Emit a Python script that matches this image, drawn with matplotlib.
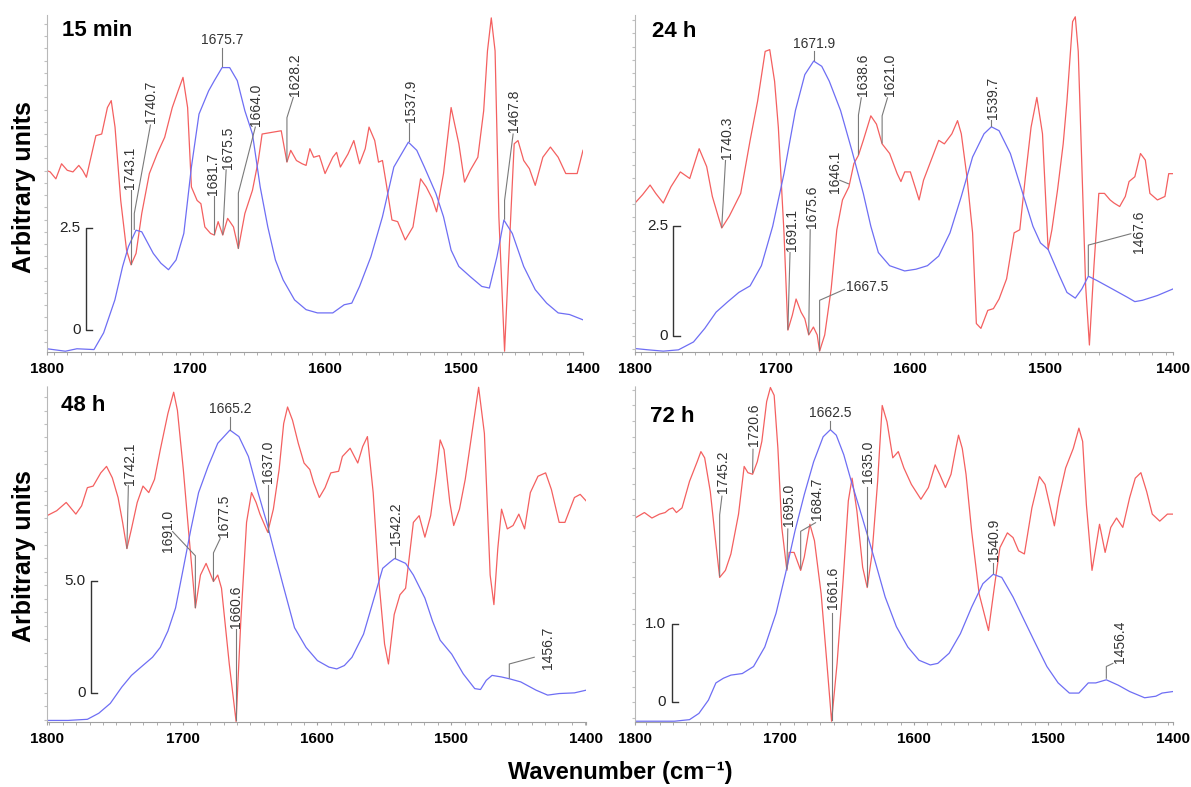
import matplotlib.pyplot as plt
from matplotlib.ticker import MaxNLocator, MultipleLocator

plt.rcParams['font.family'] = ['Liberation Sans', 'DejaVu Sans']

tick_labels = ['1800', '1700', '1600', '1500', '1400']

# ---- 15 min ----
wn_b1 = [1805, 1791.5, 1783, 1770.4, 1763.3, 1755, 1749.3, 1745, 1739.4, 1735.2,
         1726.7, 1721.1, 1715.5, 1709.9, 1704.2, 1698.6, 1693, 1685.9, 1681.7, 1676,
         1670.4, 1664.8, 1659.2, 1653.6, 1647.9, 1642.3, 1636.7, 1631, 1622.6, 1614.1,
         1605.7, 1594.4, 1586, 1580.4, 1574.7, 1566.3, 1557.8, 1549.4, 1538.7, 1532.5,
         1526.9, 1518.4, 1512.8, 1507.2, 1501.5, 1493.1, 1484.6, 1479, 1473.4, 1468.3,
         1462.1, 1453.7, 1445.2, 1436.8, 1428.3, 1419.9, 1410]
ab1 = [-0.47, -0.53, -0.47, -0.49, -0.08, 0.73, 1.55, 2.04, 2.44, 2.40,
       1.87, 1.63, 1.47, 1.71, 2.36, 3.99, 5.29, 5.86, 6.11, 6.43,
       6.43, 6.11, 5.37, 4.80, 3.50, 2.52, 1.71, 1.22, 0.73, 0.49,
       0.41, 0.41, 0.61, 0.65, 1.06, 1.79, 2.77, 3.99, 4.60, 4.40,
       3.99, 3.34, 2.77, 1.95, 1.55, 1.30, 1.06, 1.02, 1.79, 2.69,
       2.36, 1.55, 0.98, 0.65, 0.41, 0.37, 0.24]
wn_r1 = [1805, 1802.7, 1798.5, 1794.3, 1790.1, 1785.9, 1781.6, 1778.8, 1776, 1773.2,
         1769, 1764.7, 1760.5, 1757.7, 1754.9, 1750.7, 1746.4, 1743.1, 1739.4, 1735.2,
         1729.6, 1723.9, 1718.3, 1712.7, 1708.4, 1704.8, 1701.4, 1698.6, 1694.4, 1691.6,
         1688.7, 1684.5, 1681.7, 1678.9, 1675.5, 1671.9, 1667.6, 1664.0, 1659.2, 1653.6,
         1649.3, 1646.5, 1639.5, 1632.4, 1628.2, 1625.4, 1621.2, 1617, 1614.1, 1611.3,
         1608.5, 1604.3, 1600.1, 1594.4, 1591.6, 1588.8, 1583.2, 1578.9, 1574.7, 1570.5,
         1567.7, 1563.5, 1560.7, 1557.8, 1555, 1550.8, 1546.6, 1541, 1535.3, 1529.7,
         1525.5, 1521.2, 1517.9, 1512.8, 1507.2, 1501.5, 1497.3, 1493.1, 1487.5, 1483.2,
         1480.4, 1477.6, 1474.8, 1472, 1467.8, 1465, 1460.7, 1457.9, 1453.7, 1449.5,
         1445.2, 1439.6, 1434, 1428.3, 1422.7, 1414.3, 1410]
d2_1 = [3.90, 3.87, 3.70, 4.07, 3.91, 3.87, 4.03, 3.91, 3.74, 4.15,
        4.76, 4.80, 5.45, 5.62, 4.97, 3.17, 1.95, 1.59, 1.87, 2.85,
        3.83, 4.31, 4.72, 5.45, 5.86, 6.19, 5.45, 3.50, 3.17, 3.09,
        2.52, 2.36, 2.32, 2.65, 2.32, 2.73, 2.52, 1.99, 2.85, 3.42,
        4.15, 4.80, 4.84, 4.88, 4.11, 4.40, 4.15, 4.07, 4.03, 4.44,
        4.23, 4.27, 3.83, 4.23, 4.35, 3.99, 4.31, 4.64, 4.07, 4.44,
        4.97, 4.64, 4.11, 4.15, 3.58, 2.69, 2.65, 2.20, 2.52, 3.70,
        3.50, 3.22, 2.89, 3.83, 5.45, 4.56, 3.62, 3.91, 4.23, 5.37,
        6.84, 7.65, 6.84, 2.77, -0.53, 1.55, 4.56, 4.64, 4.15, 3.95,
        3.54, 4.23, 4.48, 4.23, 3.83, 3.83, 4.40]

# ---- 24 h ----
wn_b2 = [1804.8, 1795, 1783.8, 1772.5, 1761.3, 1752.9, 1744.5, 1736.1, 1727.6, 1719.2,
         1710.8, 1702.4, 1694, 1685.5, 1678.5, 1671.9, 1665.9, 1660.3, 1651.9, 1643.5,
         1635, 1629.4, 1623.8, 1615.4, 1604.2, 1595.8, 1587.3, 1578.9, 1570.5, 1562.1,
         1553.7, 1545.2, 1539.7, 1534, 1525.6, 1517.2, 1508.8, 1503.2, 1497.5, 1489.1,
         1483.5, 1477.3, 1472.4, 1467.6, 1461.1, 1449.8, 1438.6, 1433, 1427.4, 1416.2,
         1404.6]
ab2 = [-0.29, -0.32, -0.35, -0.32, -0.14, 0.17, 0.54, 0.77, 0.99, 1.14,
       1.60, 2.50, 3.70, 5.14, 5.96, 6.27, 6.15, 5.81, 5.14, 4.23,
       3.25, 2.50, 1.90, 1.60, 1.48, 1.52, 1.60, 1.82, 2.35, 3.18,
       4.08, 4.61, 4.77, 4.68, 4.16, 3.33, 2.50, 2.12, 1.97, 1.37,
       0.99, 0.86, 1.07, 1.36, 1.26, 1.07, 0.88, 0.78, 0.81, 0.92,
       1.07]
wn_r2 = [1804.8, 1799.2, 1793.6, 1789.4, 1783.8, 1778.1, 1771.1, 1764.1, 1757.1, 1751.5,
         1747.3, 1743, 1740.3, 1734.7, 1726.2, 1719.2, 1713.6, 1708, 1704.6, 1701,
         1698.2, 1694, 1691.1, 1687.8, 1685, 1681.3, 1678.5, 1675.6, 1672.1, 1669.3,
         1667.5, 1663.7, 1658.9, 1654.7, 1650.5, 1645.7, 1642, 1638.6, 1635, 1629.4,
         1625.2, 1621, 1615.4, 1609.8, 1607, 1604.2, 1600, 1595.8, 1593.5, 1590.2,
         1584.5, 1578.9, 1574.7, 1569.1, 1564.9, 1562.1, 1557.9, 1553.7, 1550.9, 1547.5,
         1542.4, 1538.2, 1534, 1528.4, 1522.8, 1518.6, 1514.4, 1510.2, 1505.9, 1501.7,
         1497.5, 1494.7, 1490.5, 1486.3, 1483.5, 1479.3, 1477.3, 1475.1, 1472.4, 1469.6,
         1466.8, 1463.4, 1459.8, 1455.6, 1451.4, 1448.5, 1444.3, 1440.1, 1437.3, 1433,
         1428.8, 1425.2, 1421.8, 1416.2, 1410.6, 1407.8, 1404.6]
d2_2 = [3.03, 3.22, 3.44, 3.25, 3.03, 3.40, 3.74, 3.59, 4.27, 3.86,
        3.18, 2.73, 2.46, 2.73, 3.25, 4.46, 5.36, 6.49, 6.53, 5.81,
        4.76, 2.35, 0.13, 0.47, 0.84, 0.54, 0.39, 0.02, 0.20, 0.02,
        -0.35, 0.02, 1.07, 2.42, 3.10, 3.40, 3.93, 4.12, 4.46, 5.02,
        4.83, 4.38, 4.16, 3.70, 3.52, 3.74, 3.74, 3.33, 3.10, 3.55,
        4.01, 4.46, 4.38, 4.61, 4.91, 4.61, 3.63, 2.35, 0.28, 0.17,
        0.58, 0.62, 0.84, 1.30, 2.35, 2.42, 3.63, 4.76, 5.44, 4.61,
        1.97, 2.42, 3.33, 4.38, 5.36, 7.17, 7.28, 6.49, 3.86, 1.14,
        -0.21, 1.60, 3.25, 3.25, 3.10, 3.03, 2.95, 3.18, 3.52, 3.63,
        4.16, 4.01, 3.25, 3.10, 3.18, 3.70, 3.70]

# ---- 48 h ----
wn_b3 = [1801.7, 1786, 1771.6, 1763.1, 1754.5, 1745.9, 1738.7, 1731.6, 1723, 1717.2,
         1711.5, 1705.8, 1700, 1694.3, 1688.6, 1681.5, 1674.3, 1665.2, 1658.5, 1651.4,
         1644.2, 1637.1, 1631.4, 1625.6, 1617, 1608.4, 1599.9, 1591.3, 1585.5, 1579.8,
         1574.1, 1565.5, 1556.9, 1551.2, 1545.5, 1542.2, 1534.1, 1528.3, 1519.7, 1514,
         1508.3, 1499.7, 1491.1, 1482.5, 1478.2, 1473.9, 1469.6, 1462.5, 1456.7, 1448.2,
         1436.7, 1428.1, 1419.5, 1408.1, 1399.4]
ab3 = [-1.23, -1.23, -1.18, -0.91, -0.47, 0.26, 0.78, 1.15, 1.59, 2.03,
       2.76, 3.79, 5.56, 7.32, 8.94, 10.11, 11.14, 11.73, 11.44, 10.55,
       8.94, 7.47, 6.14, 4.82, 2.91, 2.03, 1.44, 1.15, 1.07, 1.22,
       1.59, 2.62, 4.38, 5.56, 5.85, 6.00, 5.78, 5.26, 4.23, 3.20,
       2.35, 1.73, 0.85, 0.19, 0.15, 0.56, 0.78, 0.71, 0.63, 0.49,
       0.12, -0.10, -0.03, 0.0, 0.12]
wn_r3 = [1801.7, 1794.5, 1787.4, 1780.2, 1775.9, 1771.6, 1767.3, 1761.6, 1757.3, 1753,
         1748.7, 1745.3, 1742.1, 1738.7, 1734.4, 1730.1, 1725.8, 1721.5, 1717.2, 1711.5,
         1707.2, 1704.4, 1700, 1695.8, 1691.0, 1687.2, 1683, 1677.5, 1674.3, 1671.5,
         1665.7, 1660.6, 1657.1, 1652.8, 1649.1, 1645.7, 1642.8, 1637.0, 1632.8, 1628.5,
         1625.1, 1622.2, 1618.5, 1614.2, 1609.9, 1605.6, 1602.7, 1598.5, 1594.2, 1589.9,
         1584.1, 1581.3, 1575.5, 1569.8, 1566.1, 1562.6, 1558.3, 1554, 1549.8, 1546.9,
         1542.6, 1538.3, 1534.1, 1528.3, 1524, 1519.7, 1515.4, 1511.1, 1508.3, 1505.4,
         1501.1, 1498.2, 1493.9, 1489.6, 1483.9, 1479.6, 1475.3, 1471, 1468.2, 1465.3,
         1462.5, 1458.2, 1453.9, 1449.6, 1445.3, 1441, 1435.3, 1429.6, 1425.3, 1419.5,
         1415.2, 1408.1, 1403.8, 1399.4]
d2_3 = [7.91, 8.13, 8.50, 7.98, 8.35, 9.16, 9.23, 9.82, 10.11, 9.60,
        8.72, 7.61, 6.44, 7.32, 8.50, 9.23, 8.94, 9.53, 10.85, 12.47,
        13.42, 12.61, 9.97, 7.03, 3.79, 5.26, 5.78, 4.97, 5.26, 4.67,
        1.29, -1.28, 3.20, 7.61, 8.94, 8.50, 7.98, 7.17, 8.20, 9.97,
        12.02, 12.76, 12.17, 11.14, 10.26, 9.97, 9.38, 8.72, 9.16, 9.82,
        9.89, 10.55, 10.92, 10.26, 11.0, 11.44, 8.94, 4.97, 2.18, 1.29,
        3.50, 4.38, 4.67, 7.61, 7.91, 6.95, 7.91, 9.82, 11.29, 10.85,
        8.50, 7.47, 8.20, 9.53, 11.88, 13.64, 11.58, 5.26, 3.94, 6.44,
        8.20, 7.32, 7.47, 7.98, 7.32, 8.94, 9.67, 9.82, 9.08, 7.61,
        7.61, 8.72, 8.86, 8.57]

# ---- 72 h ----
wn_b4 = [1808.4, 1793, 1778.9, 1767.7, 1760.7, 1753.6, 1748, 1742.4, 1736.8, 1728.3,
         1719.9, 1711.5, 1703.1, 1696, 1689, 1682, 1675, 1667.9, 1662.5, 1658.1,
         1652.5, 1646.9, 1638.6, 1630, 1621.6, 1613.2, 1604.7, 1596.3, 1587.9, 1582.3,
         1573.8, 1565.4, 1557, 1548.6, 1540.9, 1534.5, 1526.1, 1517.7, 1509.2, 1500.8,
         1492.4, 1484, 1476.9, 1469.9, 1464.3, 1456.4, 1447.4, 1439, 1427.8, 1419.4,
         1414.8, 1406.6]
ab4 = [-0.24, -0.24, -0.24, -0.22, -0.14, 0.03, 0.25, 0.31, 0.35, 0.37,
       0.46, 0.71, 1.14, 1.65, 2.19, 2.66, 3.08, 3.40, 3.49, 3.42,
       3.17, 2.83, 2.36, 1.86, 1.35, 0.97, 0.71, 0.54, 0.48, 0.50,
       0.63, 0.88, 1.22, 1.52, 1.64, 1.60, 1.35, 1.05, 0.75, 0.46,
       0.25, 0.12, 0.12, 0.25, 0.25, 0.29, 0.22, 0.14, 0.06, 0.08,
       0.12, 0.14]
wn_r4 = [1808.4, 1801.4, 1795.8, 1790.1, 1785.9, 1783.1, 1780.3, 1777.5, 1773.3, 1767.7,
         1762, 1759.2, 1756.4, 1752.2, 1748, 1745.2, 1740.9, 1736.8, 1731.1, 1726.9,
         1724.1, 1720.6, 1717.1, 1713.7, 1710.1, 1707.3, 1704.5, 1701.7, 1698.8, 1695.0,
         1693.3, 1689.6, 1684.7, 1682, 1677.8, 1674.4, 1669.4, 1665.1, 1661.6, 1657.5,
         1653, 1649.1, 1646.3, 1642.7, 1638.4, 1635.0, 1631.4, 1627.2, 1623.8, 1620.2,
         1615.9, 1611.8, 1607.6, 1602, 1594.9, 1589.3, 1584.2, 1580.9, 1576.6, 1572.4,
         1568.8, 1566.8, 1564, 1561.2, 1557, 1551.4, 1544.4, 1540.1, 1535.9, 1530.3,
         1526.1, 1521.9, 1517.6, 1512, 1506.4, 1502.2, 1498.2, 1495.2, 1491.8, 1486.8,
         1481.1, 1476.9, 1474.1, 1471.3, 1467.1, 1464.3, 1461.5, 1457.3, 1453.1, 1448.8,
         1444.1, 1439, 1434.8, 1430.6, 1426.3, 1422.1, 1416.5, 1410.8, 1406.6]
d2_4 = [2.36, 2.43, 2.36, 2.41, 2.43, 2.47, 2.49, 2.43, 2.49, 2.83,
        3.08, 3.21, 3.13, 2.70, 2.03, 1.60, 1.69, 1.90, 2.41, 3.02,
        2.94, 2.92, 3.08, 3.34, 3.85, 4.03, 3.93, 3.25, 2.24, 1.69,
        1.92, 1.92, 1.69, 1.86, 2.28, 2.07, 1.39, 0.50, -0.24, 0.50,
        1.56, 2.58, 2.87, 2.45, 1.73, 1.47, 1.90, 2.83, 3.80, 3.59,
        3.13, 3.21, 3.00, 2.79, 2.60, 2.75, 3.04, 2.92, 2.75, 2.92,
        3.25, 3.42, 3.25, 2.92, 2.19, 1.39, 0.92, 1.47, 1.98, 2.17,
        2.11, 1.94, 1.90, 2.49, 2.89, 2.79, 2.49, 2.26, 2.62, 3.00,
        3.25, 3.51, 3.34, 2.53, 1.69, 1.98, 2.28, 1.92, 2.24, 2.36,
        2.24, 2.62, 2.87, 2.94, 2.70, 2.41, 2.32, 2.41, 2.41]

# peak labels: (text, text x, text y, style, leader path from text to band)
# style 'v' = vertical text, 'h' = horizontal centred, 'l' = horizontal left
notes_1 = [
    ('1675.7', 1675.7, 6.93, 'h', [(1675.7, 6.90), (1675.7, 6.47)]),
    ('1743.1', 1743.5, 3.45, 'v', [(1743.1, 3.42), (1743.1, 1.62)]),
    ('1740.7', 1728.3, 5.06, 'v', [(1728.8, 5.02), (1740.7, 2.85), (1740.7, 2.46)]),
    ('1681.7', 1683.0, 3.30, 'v', [(1681.7, 3.27), (1681.7, 2.34)]),
    ('1675.5', 1671.5, 3.95, 'v', [(1673.0, 3.92), (1675.5, 2.34)]),
    ('1664.0', 1650.7, 5.00, 'v', [(1651.5, 4.97), (1664.0, 3.35), (1664.0, 2.00)]),
    ('1628.2', 1622.0, 5.74, 'v', [(1623.5, 5.70), (1628.2, 5.20), (1628.2, 4.13)]),
    ('1537.9', 1536.7, 5.09, 'v', [(1537.9, 5.06), (1537.9, 4.62)]),
    ('1467.8', 1460.7, 4.84, 'v', [(1461.5, 4.80), (1467.8, 3.17), (1467.8, 2.71)]),
]
notes_2 = [
    ('1671.9', 1671.9, 6.50, 'h', [(1671.9, 6.50), (1671.9, 6.29)]),
    ('1740.3', 1736.5, 4.04, 'v', [(1737.5, 4.00), (1740.3, 2.48)]),
    ('1691.1', 1688.0, 1.94, 'v', [(1689.5, 1.90), (1691.1, 0.15)]),
    ('1675.6', 1673.0, 2.46, 'v', [(1674.5, 2.42), (1675.6, 0.04)]),
    ('1667.5', 1647.5, 1.11, 'l', [(1649.0, 1.06), (1667.5, 0.81), (1667.5, -0.33)]),
    ('1646.1', 1656.0, 3.25, 'v', [(1652.5, 3.55), (1646.1, 3.47)]),
    ('1638.6', 1635.0, 5.47, 'v', [(1636.5, 5.43), (1638.6, 5.04), (1638.6, 4.14)]),
    ('1621.0', 1615.4, 5.47, 'v', [(1617.0, 5.43), (1621.0, 5.02), (1621.0, 4.40)]),
    ('1539.7', 1538.2, 4.95, 'v', [(1539.7, 4.92), (1539.7, 4.79)]),
    ('1467.6', 1430.2, 1.90, 'v', [(1436.0, 2.33), (1467.6, 2.07), (1467.6, 1.38)]),
]
notes_3 = [
    ('1665.2', 1665.2, 12.35, 'h', [(1665.2, 12.30), (1665.2, 11.75)]),
    ('1742.1', 1740.1, 9.30, 'v', [(1741.0, 9.25), (1742.1, 6.46)]),
    ('1691.0', 1711.5, 6.29, 'v', [(1708.0, 7.20), (1691.0, 6.12), (1691.0, 3.81)]),
    ('1677.5', 1670.0, 6.95, 'v', [(1672.5, 6.88), (1677.5, 6.25), (1677.5, 4.99)]),
    ('1660.6', 1660.8, 2.91, 'v', [(1660.6, 2.85), (1660.6, -1.20)]),
    ('1637.0', 1637.1, 9.38, 'v', [(1637.0, 9.30), (1637.0, 7.20)]),
    ('1542.2', 1541.2, 6.59, 'v', [(1542.2, 6.52), (1542.2, 6.02)]),
    ('1456.7', 1428.1, 1.07, 'v', [(1438.1, 1.59), (1456.7, 1.29), (1456.7, 0.67)]),
]
notes_4 = [
    ('1662.5', 1662.5, 3.61, 'h', [(1662.5, 3.60), (1662.5, 3.50)]),
    ('1745.2', 1742.4, 2.68, 'v', [(1743.5, 2.64), (1745.2, 2.40), (1745.2, 1.62)]),
    ('1720.6', 1719.9, 3.28, 'v', [(1720.3, 3.24), (1720.6, 2.94)]),
    ('1695.0', 1693.2, 2.26, 'v', [(1694.3, 2.22), (1695.0, 1.71)]),
    ('1684.7', 1672.2, 2.34, 'v', [(1673.6, 2.30), (1684.7, 2.19), (1684.7, 1.71)]),
    ('1661.6', 1660.4, 1.20, 'v', [(1661.6, 1.15), (1661.6, -0.22)]),
    ('1635.0', 1634.2, 2.81, 'v', [(1635.0, 2.76), (1635.0, 1.49)]),
    ('1540.9', 1540.1, 1.81, 'v', [(1540.9, 1.78), (1540.9, 1.66)]),
    ('1456.4', 1446.0, 0.50, 'v', [(1451.5, 0.50), (1456.4, 0.46), (1456.4, 0.31)]),
]

panels = [
    dict(title='15 min', wb=wn_b1, ab=ab1, wr=wn_r1, d2=d2_1, notes=notes_1,
         xlim=(1805, 1410), ylim=(-0.55, 7.72), bar_x=1776, bar=2.5, bar_lab='2.5',
         rect=[0.0395, 0.5527, 0.450, 0.4282], title_pos=(0.028, 0.955)),
    dict(title='24 h', wb=wn_b2, ab=ab2, wr=wn_r2, d2=d2_2, notes=notes_2,
         xlim=(1804.8, 1404.6), ylim=(-0.37, 7.32), bar_x=1776.2, bar=2.5, bar_lab='2.5',
         rect=[0.5332, 0.5527, 0.4517, 0.4282], title_pos=(0.032, 0.95)),
    dict(title='48 h', wb=wn_b3, ab=ab3, wr=wn_r3, d2=d2_3, notes=notes_3,
         xlim=(1801.7, 1399.4), ylim=(-1.3, 13.7), bar_x=1768.8, bar=5.0, bar_lab='5.0',
         rect=[0.0395, 0.0826, 0.4526, 0.427], title_pos=(0.026, 0.943)),
    dict(title='72 h', wb=wn_b4, ab=ab4, wr=wn_r4, d2=d2_4, notes=notes_4,
         xlim=(1808.4, 1406.6), ylim=(-0.25, 4.05), bar_x=1780.9, bar=1.0, bar_lab='1.0',
         rect=[0.5332, 0.0826, 0.4517, 0.427], title_pos=(0.028, 0.908)),
]

fig = plt.figure(figsize=(11.91, 7.87), dpi=100)

for p in panels:
    ax = fig.add_axes(p['rect'])
    ax.plot(p['wr'], p['d2'], color='#f46060', lw=0.9)
    ax.plot(p['wb'], p['ab'], color='#6e6ef4', lw=0.9)
    ax.set_xlim(p['xlim'])
    ax.set_ylim(p['ylim'])

    # axes look: gray bottom line with small ticks, faint dotted left line
    for s in ['top', 'right']:
        ax.spines[s].set_visible(False)
    ax.spines['bottom'].set_color('#a0a0a0')
    ax.spines['left'].set_color('#b8b8b8')
    ax.spines['left'].set_linestyle((0, (2, 1)))
    ax.set_xticks([p['xlim'][0], 1700, 1600, 1500, p['xlim'][1]])
    ax.set_xticklabels(tick_labels, fontsize=11, fontweight='bold')
    ax.xaxis.set_minor_locator(MultipleLocator(10))
    ax.tick_params(axis='x', which='both', length=2, color='#a0a0a0', pad=5)
    ax.yaxis.set_major_locator(MaxNLocator(28))
    ax.tick_params(axis='y', length=2, color='#c0c0c0', labelleft=False)

    # scale bar
    bx = p['bar_x']
    tk = 4.5
    ax.plot([bx - tk, bx, bx, bx - tk], [p['bar'], p['bar'], 0, 0],
            color='#333333', lw=1.0)
    ax.annotate(p['bar_lab'], (bx, p['bar']), xytext=(-4, 0), textcoords='offset points',
                ha='right', va='center', fontsize=11, color='#222222')
    ax.annotate('0', (bx, 0), xytext=(-4, 0), textcoords='offset points',
                ha='right', va='center', fontsize=11, color='#222222')

    # peak labels
    for label, tx, ty, style, path in p['notes']:
        ax.plot([q[0] for q in path], [q[1] for q in path], color='#7a7a7a', lw=0.8)
        if style == 'v':
            ax.text(tx, ty, label, rotation=90, ha='center', va='bottom',
                    fontsize=10, color='#333333')
        elif style == 'h':
            ax.text(tx, ty, label, ha='center', va='bottom', fontsize=10, color='#333333')
        else:
            ax.text(tx, ty, label, ha='left', va='center', fontsize=10, color='#333333')

    ax.text(p['title_pos'][0], p['title_pos'][1], p['title'], transform=ax.transAxes,
            ha='left', va='center', fontsize=16, fontweight='bold')

fig.text(0.020, 0.762, 'Arbitrary units', rotation=90, ha='center', va='center',
         fontsize=18, fontweight='bold')
fig.text(0.020, 0.293, 'Arbitrary units', rotation=90, ha='center', va='center',
         fontsize=18, fontweight='bold')
fig.text(0.5206, 0.018, 'Wavenumber (cm\u207b\u00b9)', ha='center', va='center',
         fontsize=17, fontweight='bold')

fig.savefig('out.png', dpi=100)
